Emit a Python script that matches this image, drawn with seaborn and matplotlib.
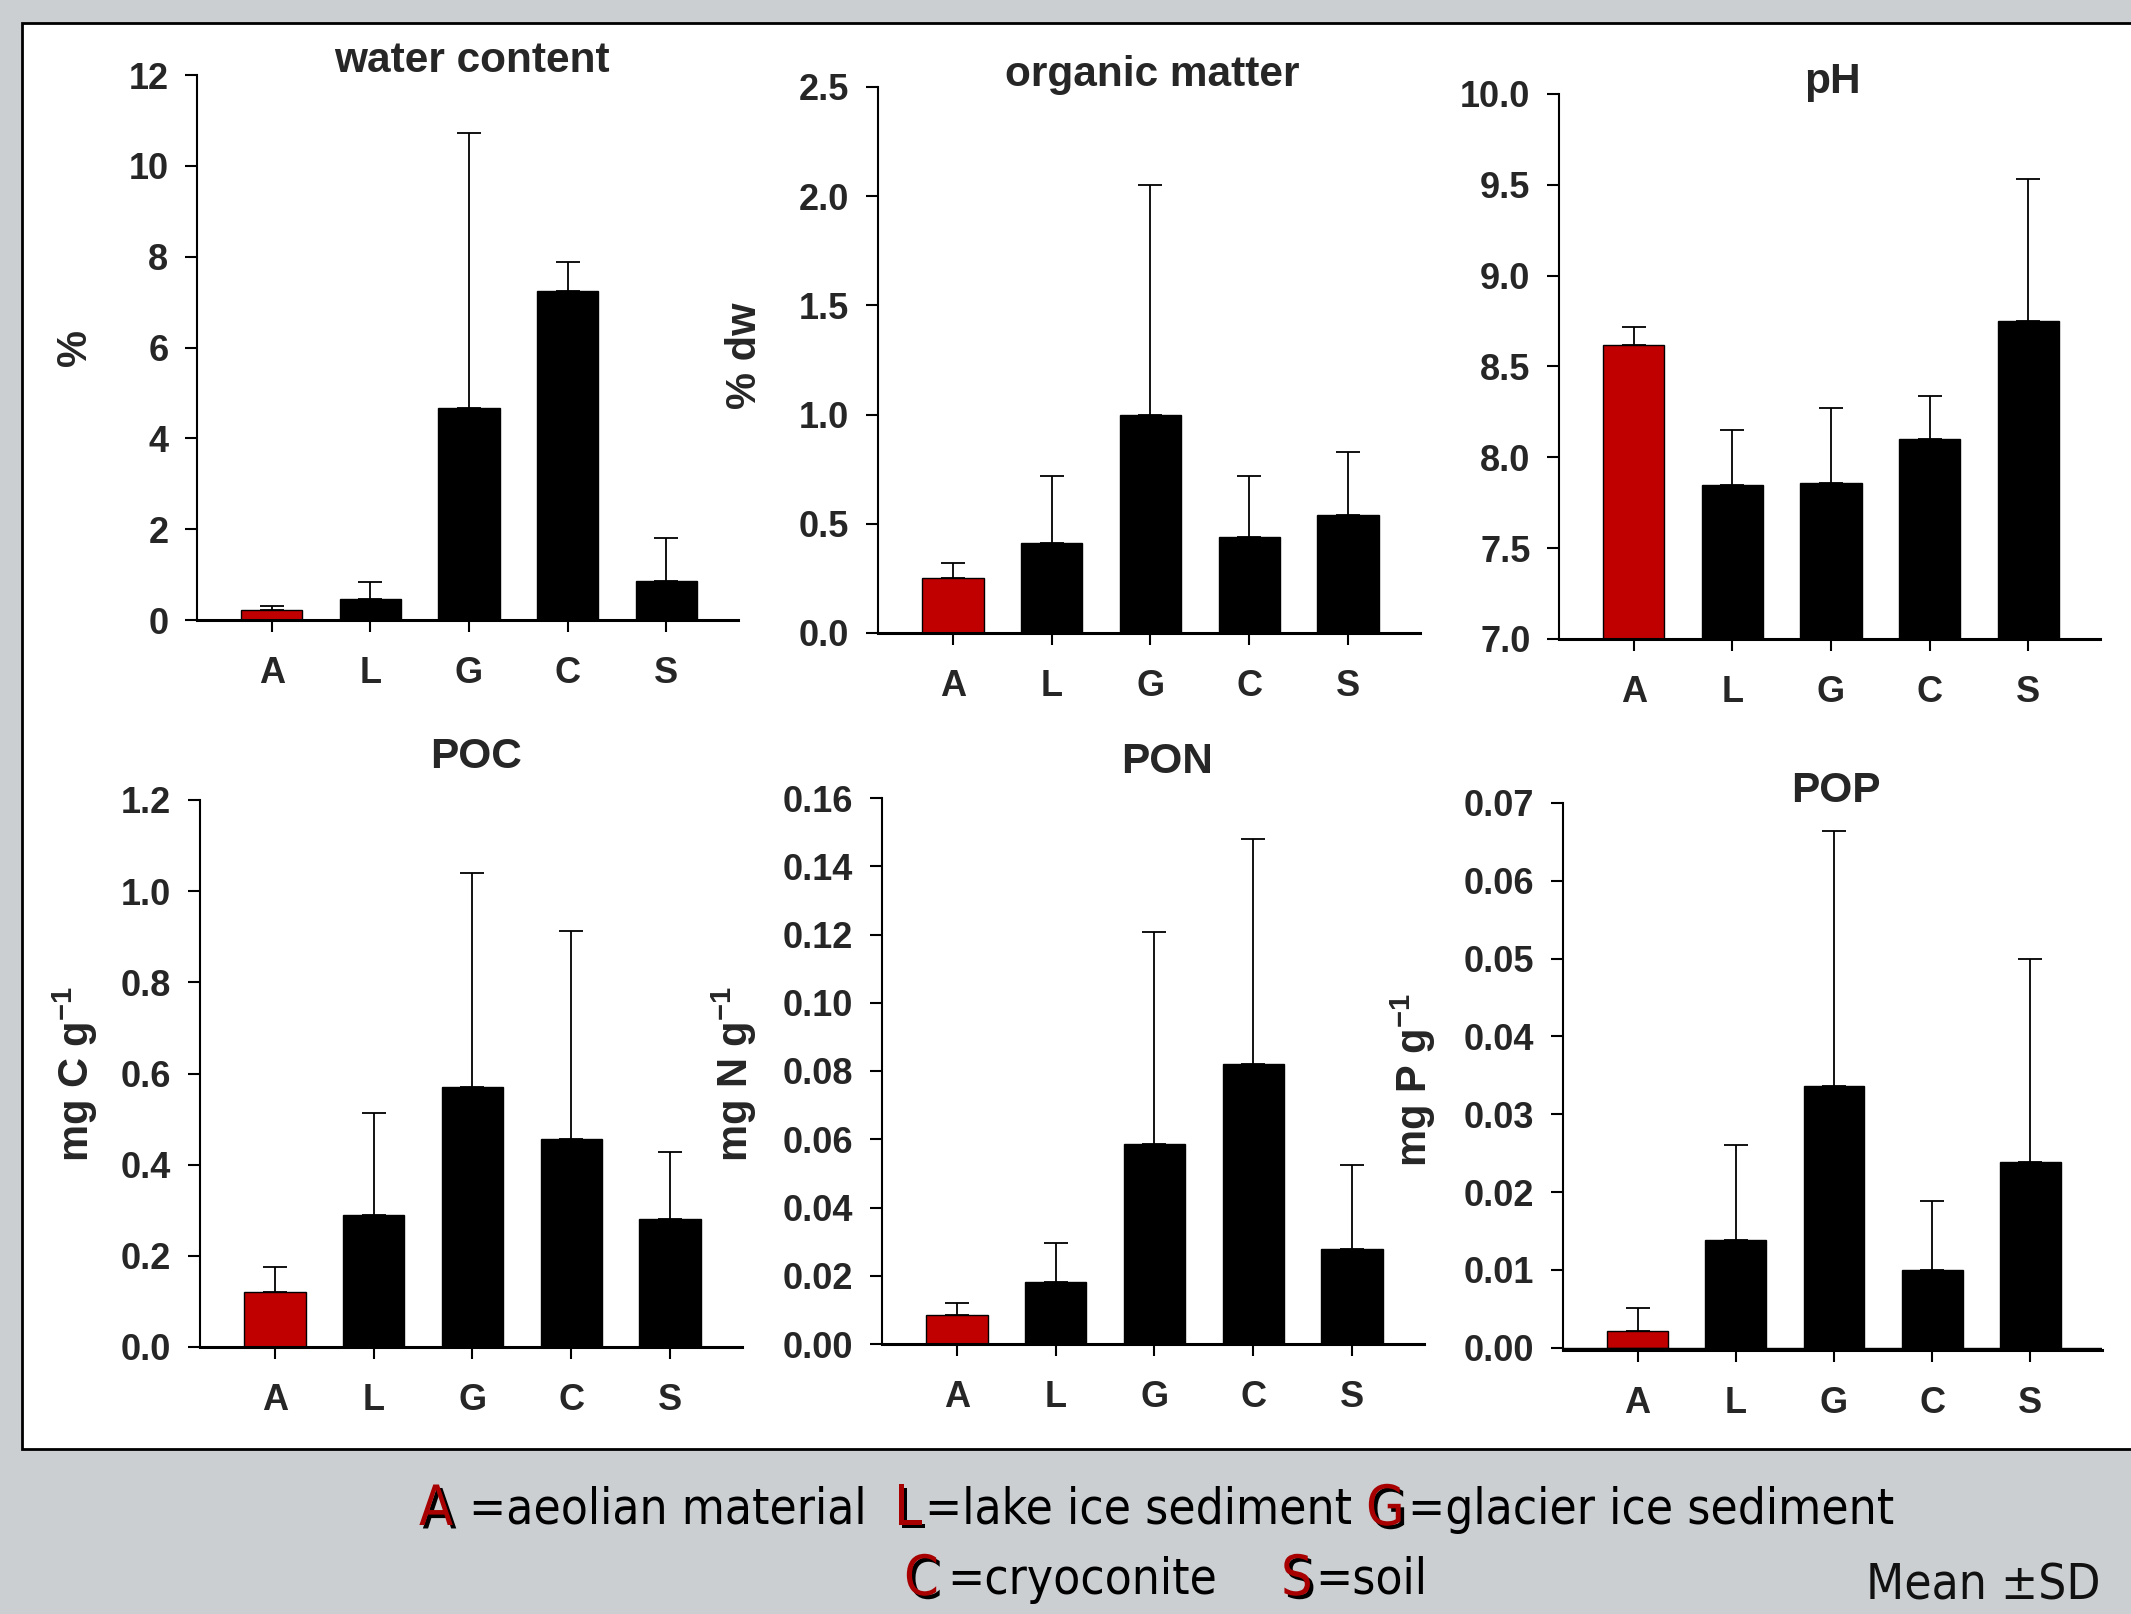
import numpy as np
import pandas as pd
import seaborn as sns
import matplotlib.pyplot as plt
import matplotlib.patheffects as pe
from matplotlib.patches import Rectangle

sns.set_theme(style='white')
plt.rcParams['font.family'] = ['Liberation Sans', 'DejaVu Sans']
plt.rcParams['font.weight'] = 'bold'
plt.rcParams['mathtext.fontset'] = 'custom'
plt.rcParams['mathtext.rm'] = 'Liberation Sans:bold'
plt.rcParams['mathtext.default'] = 'rm'

# data (mean and SD)
categories = ['A', 'L', 'G', 'C', 'S']

water_mean = [0.22, 0.46, 4.66, 7.24, 0.86]
water_sd = [0.08, 0.38, 6.07, 0.65, 0.94]

om_mean = [0.25, 0.41, 1.00, 0.44, 0.54]
om_sd = [0.07, 0.31, 1.05, 0.28, 0.29]

ph_mean = [8.62, 7.85, 7.86, 8.10, 8.75]
ph_sd = [0.10, 0.30, 0.41, 0.24, 0.78]

poc_mean = [0.12, 0.29, 0.57, 0.457, 0.28]
poc_sd = [0.055, 0.223, 0.47, 0.456, 0.147]

pon_mean = [0.0084, 0.0183, 0.0585, 0.082, 0.0279]
pon_sd = [0.0036, 0.0112, 0.0621, 0.066, 0.0246]

pop_mean = [0.0021, 0.0139, 0.0336, 0.0100, 0.0239]
pop_sd = [0.0030, 0.0121, 0.0328, 0.0089, 0.0261]

titles = ['water content', 'organic matter', 'pH', 'POC', 'PON', 'POP']
ylabels = ['%', '% dw', None, 'mg C g$^{-1}$', 'mg N g$^{-1}$', 'mg P g$^{-1}$']
yticks = [np.arange(0, 12.1, 2), np.arange(0, 2.51, 0.5), np.arange(7, 10.01, 0.5),
          np.arange(0, 1.21, 0.2), np.arange(0, 0.161, 0.02), np.arange(0, 0.071, 0.01)]
tick_fmt = ['{:.0f}', '{:.1f}', '{:.1f}', '{:.1f}', '{:.2f}', '{:.2f}']
means = [water_mean, om_mean, ph_mean, poc_mean, pon_mean, pop_mean]
sds = [water_sd, om_sd, ph_sd, poc_sd, pon_sd, pop_sd]

legend_letters = ['A', 'L', 'G', 'C', 'S']
legend_names = ['=aeolian material', '=lake ice sediment', '=glacier ice sediment',
                '=cryoconite', '=soil']

bar_colors = {'A': '#c00000', 'L': 'black', 'G': 'black', 'C': 'black', 'S': 'black'}

W, H = 2131, 1614
fig = plt.figure(figsize=(W / 100, H / 100), dpi=100)
fig.patch.set_facecolor('#cbcfd2')

# white framed panel
fig.add_artist(Rectangle((22 / W, 1 - 1449 / H), 1.2, (1449 - 23) / H,
                         transform=fig.transFigure, facecolor='white',
                         edgecolor='black', lw=2, zorder=-1))

# axes boxes in pixels: left, top, right, bottom
boxes = [(197, 75, 738, 620), (878, 87, 1420, 633), (1559, 94, 2100, 639),
         (200, 800, 742, 1347), (882, 798, 1424, 1344), (1563, 803, 2102, 1350)]
title_pos = [(472, 61), (1152, 75), (1832, 82), (476, 757), (1167, 762), (1836, 791)]
ylabel_pos = [(75, 347), (745, 356), None, (75, 1074), (734, 1074), (1413, 1080)]


def px_axes(box):
    l, t, r, b = box
    return fig.add_axes([l / W, 1 - b / H, (r - l) / W, (b - t) / H])


for i in range(6):
    ax = px_axes(boxes[i])
    df = pd.DataFrame({'cat': categories, 'mean': means[i], 'sd': sds[i]})
    sns.barplot(data=df, x='cat', y='mean', hue='cat', order=categories,
                palette=bar_colors, legend=False, width=0.62, saturation=1,
                edgecolor='black', linewidth=1, errorbar=None, ax=ax)
    ax.errorbar(np.arange(5), df['mean'], yerr=[np.zeros(5), df['sd']], fmt='none',
                ecolor='black', elinewidth=1.3, capsize=8.5, capthick=1.3)
    yt = yticks[i]
    ax.set_xlim(-0.76, 4.73)
    lo = yt[0]
    if i == 5:
        lo = -0.0003
        ax.axhline(0, color='black', lw=1)
    ax.set_ylim(lo, yt[-1])
    ax.set_yticks(yt)
    ax.set_yticklabels([tick_fmt[i].format(v) for v in yt])
    ax.set_xlabel('')
    ax.set_ylabel('')
    ax.set_facecolor('white')
    sns.despine(ax=ax)
    ax.spines['left'].set_linewidth(1.5)
    ax.spines['bottom'].set_linewidth(2.2)
    ax.spines['left'].set_color('black')
    ax.spines['bottom'].set_color('black')
    ax.tick_params(axis='y', direction='out', length=8.6, width=1.5, pad=12,
                   labelsize=26, left=True, color='black')
    ax.tick_params(axis='x', direction='out', length=8.6, width=1.5, pad=17,
                   labelsize=26, bottom=True, color='black')
    for lab in ax.get_xticklabels() + ax.get_yticklabels():
        lab.set_fontweight('bold')
    tx, ty = title_pos[i]
    fig.text(tx / W, 1 - ty / H, titles[i], ha='center', va='center',
             fontsize=30.5, fontweight='bold')
    if ylabels[i]:
        lx, ly = ylabel_pos[i]
        fig.text(lx / W, 1 - ly / H, ylabels[i], ha='center', va='center',
                 rotation=90, fontsize=30, fontweight='bold')

# legend text under the panel
renderer = fig.canvas.get_renderer()
leg_kw = dict(family=['DejaVu Sans'], fontstretch='condensed', fontweight='normal')
red_fx = [pe.withSimplePatchShadow(offset=(2.5, -2.5), shadow_rgbFace='black', alpha=1)]

# (letter x, name x, y) in pixels
leg_pos = [(419, 469, 1510), (894, 913, 1510), (1366, 1408, 1510),
           (904, 947, 1580), (1281, 1309, 1580)]
for letter, name, (lx, nx, y) in zip(legend_letters, legend_names, leg_pos):
    t = fig.text(lx / W, 1 - y / H, letter, ha='left', va='center', fontsize=40,
                 color='#a80000', path_effects=red_fx, **leg_kw)
    right = t.get_window_extent(renderer).x1
    fig.text(max(nx, right + 3) / W, 1 - y / H, name, ha='left', va='center',
             fontsize=35.5, color='black', **leg_kw)

fig.text(2100 / W, 1 - 1585 / H, 'Mean \u00b1SD', ha='right', va='center',
         fontsize=35.5, color='#111111', **leg_kw)

fig.savefig('out.png', dpi=100, facecolor=fig.get_facecolor())
